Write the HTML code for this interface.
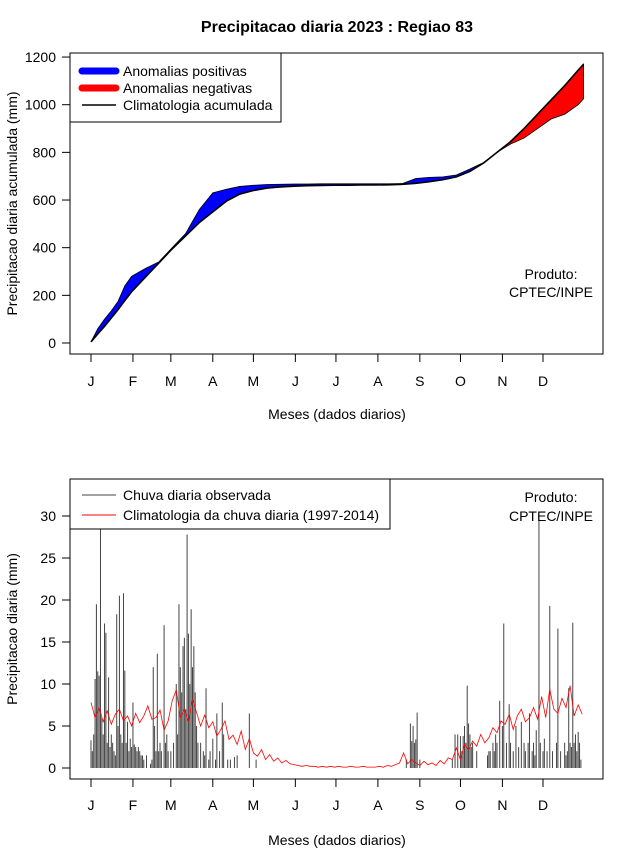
<!DOCTYPE html>
<html><head><meta charset="utf-8"><style>
body{margin:0;background:#fff}
svg{display:block;font-family:"Liberation Sans",sans-serif}
</style></head><body>
<svg id="c" width="640" height="850" xmlns="http://www.w3.org/2000/svg">
<text x="337" y="32" text-anchor="middle" font-size="16" font-weight="bold">Precipitacao diaria 2023 : Regiao 83</text>
<g id="top"></g>
<g id="bot"></g>
</svg>
<script>
const months=["J","F","M","A","M","J","J","A","S","O","N","D"];
const monthDays=[1,32,60,91,121,152,182,213,244,274,305,335];
const cumDays=[1,6,11,16,21,26,31,41,51,61,71,81,91,101,111,121,131,141,151,161,171,181,191,201,211,221,231,241,251,261,271,281,291,301,311,321,331,341,351,361,365];
const climCum=[5,38,70,105,140,178,215,275,335,395,450,505,550,595,625,640,650,655,658,660,661,662,662,663,663,664,666,670,677,685,697,720,755,800,845,900,960,1020,1080,1145,1170];
const obsCum=[5,60,100,135,175,240,280,312,340,400,460,560,630,645,657,662,665,666,667,667,668,668,668,668,668,668,669,690,695,697,705,730,757,800,835,860,900,940,960,1000,1025];
const cumTicks=[0,200,400,600,800,1000,1200];
const rainDays=[1,2,3,4,5,6,7,8,9,10,11,12,13,14,15,16,17,18,19,20,21,22,23,24,25,26,27,28,29,30,31,32,33,34,35,36,37,38,39,40,42,45,46,47,48,49,50,51,52,53,55,56,57,58,60,62,64,65,66,67,68,69,70,71,72,73,74,75,76,77,78,79,80,82,84,85,86,88,89,91,93,94,96,98,99,102,104,107,109,118,123,234,237,238,239,240,241,242,244,268,270,272,274,275,276,277,278,279,280,281,282,283,286,294,295,296,298,299,300,301,303,305,306,308,310,311,313,315,317,319,321,322,324,325,327,328,329,330,332,333,335,336,338,340,342,345,346,348,351,352,353,354,355,356,357,358,359,360,361,362,363];
const rainVals=[3.3,2,4,10.6,19.5,11.5,11,28.4,6,4,17.2,16.1,3,10.8,2.5,4,3,2,1.5,18.3,5,20.5,4,3,20.8,11.6,3,5.5,2,3.5,2.5,7.8,2.8,2.5,2,2.5,2,1.5,1.5,1,1.5,0.5,1,12,5,2,13.6,2,3,2,17,3,4,2,2,3,10,4,19.5,12,9,14.5,15.5,7,27.8,16,10,18.9,12,14.5,9,5,3,3,2,1.5,9.5,1,2,3.5,1,6.5,2,7.8,4,1,1,1.3,1.5,6.5,1,1,5.3,3.2,5,3,3.4,6.6,1,1,4,4,3.8,2,3.8,5,3,9.8,5.3,4,2.5,3,2,1.5,2,2,3,2,4,3,8,5,17.2,3,7.6,3,2,5,2.5,5.5,3,2,3,6.5,2,3,1.5,4.5,30,3,2,3.5,2,19.3,2,3,16.6,2,3,1.5,2,9.5,3,2.5,17.3,3,4,2,4.3,3,1,3.5];
const climDaily=[7.8,6.0,7.2,5.5,6.8,5.2,6.4,7.0,5.6,6.2,5.0,6.5,5.4,6.2,7.4,5.8,6.0,6.9,4.5,5.6,8.0,9.3,6.0,7.0,5.5,8.2,6.6,5.0,6.3,4.8,5.5,3.8,4.6,5.6,3.4,3.9,2.8,4.4,2.2,3.5,1.8,1.4,2.2,1.0,1.6,0.8,1.2,0.6,0.9,0.5,0.4,0.3,0.2,0.3,0.2,0.2,0.1,0.2,0.1,0.2,0.1,0.2,0.1,0.1,0.2,0.1,0.1,0.2,0.1,0.1,0.1,0.2,0.1,0.3,0.2,0.4,0.6,1.8,0.5,1.0,0.6,0.3,0.8,0.4,0.6,0.3,0.9,0.5,1.2,1.0,2.4,1.0,2.8,2.2,3.2,2.6,4.0,3.0,3.6,4.8,4.2,5.6,5.2,6.4,4.6,6.2,7.0,5.5,6.0,7.2,5.8,8.5,6.0,9.4,7.0,6.5,8.3,7.2,9.8,6.2,7.5,6.4];
const rainTicks=[0,5,10,15,20,25,30];

const NS="http://www.w3.org/2000/svg";
function mk(p,tag,at,txt){const e=document.createElementNS(NS,tag);for(const k in at)e.setAttribute(k,at[k]);if(txt!=null)e.textContent=txt;p.appendChild(e);return e;}
const xd=d=>91+(d-1)*1.3533;
const yT=v=>343-v*0.2383;
const yB=v=>768-v*8.4;

function axes(g,top,bot,yfn,ticks,ylab,labY,xlabY){
  const box=mk(g,'rect',{x:70,y:top,width:533,height:bot-top,fill:'none',stroke:'#000'});
  
  ticks.forEach(t=>{mk(g,'line',{x1:62,x2:70,y1:yfn(t),y2:yfn(t),stroke:'#000'});
    const l=mk(g,'text',{x:56,y:yfn(t)+5,'text-anchor':'end','font-size':14},t);
    });
  monthDays.forEach((d,i)=>{mk(g,'line',{x1:xd(d),x2:xd(d),y1:bot,y2:bot+8,stroke:'#000'});
    const l=mk(g,'text',{x:xd(d),y:labY,'text-anchor':'middle','font-size':14},months[i]);
    });
  const xl=mk(g,'text',{x:337,y:xlabY,'text-anchor':'middle','font-size':14},'Meses (dados diarios)');
  
  const cy=(top+bot)/2;
  const yl=mk(g,'text',{x:17,y:cy,'text-anchor':'middle','font-size':14,transform:`rotate(-90 17 ${cy})`},ylab);
  
}
const T=document.getElementById('top');
axes(T,53,354,yT,cumTicks,'Precipitacao diaria acumulada (mm)',386,419);
function band(useMax,color,name){
  let up=cumDays.map((d,i)=>[xd(d),yT(useMax?Math.max(obsCum[i],climCum[i]):Math.min(obsCum[i],climCum[i]))]);
  let lo=cumDays.map((d,i)=>[xd(d),yT(climCum[i])]).reverse();
  const p=mk(T,'polygon',{points:up.concat(lo).map(q=>q.join(',')).join(' '),fill:color,stroke:'#000','stroke-width':0.8});
  
}
band(true,'#0000ff','positive-anomaly-area');
band(false,'#ff0000','negative-anomaly-area');
const cl=mk(T,'polyline',{points:cumDays.map((d,i)=>xd(d)+','+yT(climCum[i])).join(' '),fill:'none',stroke:'#000','stroke-width':1.6});

let lg=mk(T,'g',{});
mk(lg,'rect',{x:70,y:53,width:211,height:69,fill:'#fff',stroke:'#000'});
[['#0000ff','Anomalias positivas',7],['#ff0000','Anomalias negativas',7],['#000','Climatologia acumulada',1.5]].forEach((e,i)=>{
  const y=71+i*17;const le=mk(lg,'g',{});
  mk(le,'line',{x1:82,x2:116,y1:y,y2:y,stroke:e[0],'stroke-width':e[2],'stroke-linecap':e[2]>2?'round':'butt'});
  mk(le,'text',{x:123,y:y+5,'font-size':14},e[1]);});
let pr=mk(T,'text',{x:551,y:279,'text-anchor':'middle','font-size':14},'Produto:');
mk(T,'text',{x:551,y:297,'text-anchor':'middle','font-size':14},'CPTEC/INPE');
const B=document.getElementById('bot');
axes(B,479,779,yB,rainTicks,'Precipitacao diaria (mm)',810,845);
rainDays.forEach((d,i)=>{const b=mk(B,'line',{x1:xd(d),x2:xd(d),y1:yB(0),y2:yB(rainVals[i]),stroke:'#444','stroke-width':1});
  });
const rl=mk(B,'polyline',{points:climDaily.map((v,i)=>xd(1+3*i)+','+yB(v)).join(' '),fill:'none',stroke:'#ff0000','stroke-width':0.8});

let lg2=mk(B,'g',{});
mk(lg2,'rect',{x:70,y:479,width:320,height:50,fill:'#fff',stroke:'#000'});
[['#444','Chuva diaria observada'],['#ff0000','Climatologia da chuva diaria (1997-2014)']].forEach((e,i)=>{
  const y=495+i*20;const le=mk(lg2,'g',{});
  mk(le,'line',{x1:82,x2:116,y1:y,y2:y,stroke:e[0],'stroke-width':1});
  mk(le,'text',{x:123,y:y+5,'font-size':14},e[1]);});
let pr2=mk(B,'text',{x:551,y:502,'text-anchor':'middle','font-size':14},'Produto:');
mk(B,'text',{x:551,y:521,'text-anchor':'middle','font-size':14},'CPTEC/INPE');
</script>
</body></html>
